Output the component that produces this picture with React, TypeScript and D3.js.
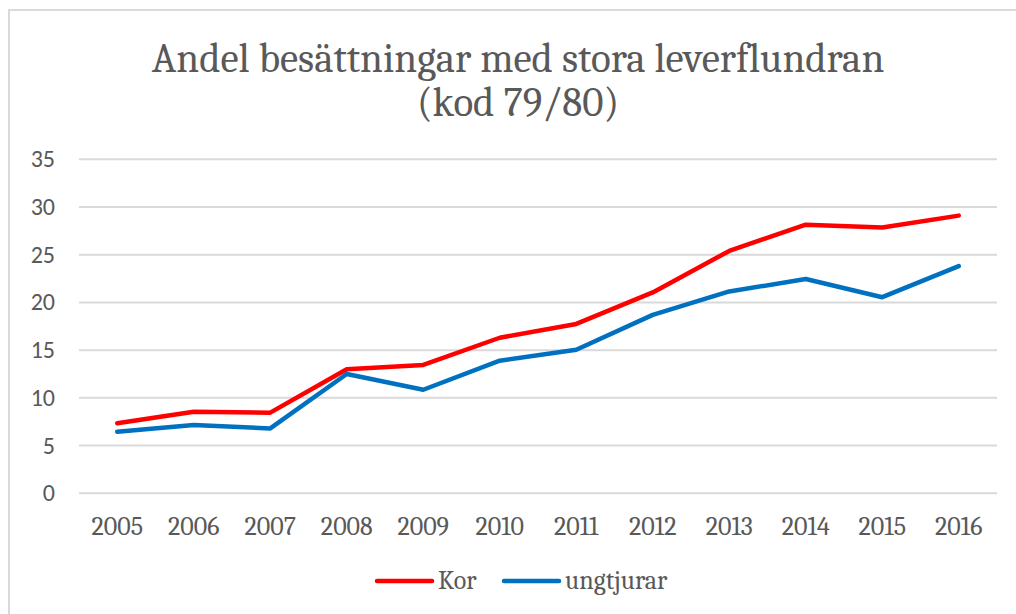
import * as React from 'react';
import * as d3 from 'd3';

const years = ['2005', '2006', '2007', '2008', '2009', '2010', '2011', '2012', '2013', '2014', '2015', '2016'];
const kor = [7.35, 8.55, 8.45, 13.0, 13.45, 16.3, 17.75, 21.05, 25.4, 28.15, 27.85, 29.1];
const ungtjurar = [6.45, 7.15, 6.8, 12.5, 10.85, 13.9, 15.05, 18.7, 21.15, 22.45, 20.55, 23.8];
const yTicks = [0, 5, 10, 15, 20, 25, 30, 35];
const seriesNames = ['Kor', 'ungtjurar'];
const seriesColors = ['#ff0000', '#0070c0'];

const W = 1016;
const H = 614;
const left = 79, right = 997, top = 159.3, bottom = 493.3;

const textColor = '#595959';
const serif = 'Cambria, "Liberation Serif", "DejaVu Serif", serif';
const sans = 'Calibri, "Open Sans", "Liberation Sans", sans-serif';

export default function App() {
  const x = d3.scaleBand<string>().domain(years).range([left, right]);
  const y = d3.scaleLinear().domain([0, 35]).range([bottom, top]);
  const line = d3.line<number>()
    .x((_, i) => x(years[i])! + x.bandwidth() / 2)
    .y(d => y(d));

  const series = [kor, ungtjurar];

  return (
    <svg width={W} height={H} style={{ position: 'absolute', left: 0, top: 0, background: '#fff' }}>
      <rect x={9} y={10} width={W + 10} height={H + 10} fill="#fff" stroke="#d9d9d9" strokeWidth={2} />

      <text x={518} y={72} textAnchor="middle" fontFamily={serif} fontSize={41} fill={textColor}>
        Andel besättningar med stora leverflundran
      </text>
      <text x={518} y={116} textAnchor="middle" fontFamily={serif} fontSize={41} fill={textColor}>
        (kod 79/80)
      </text>

      {yTicks.map(t => (
        <g key={t}>
          <line x1={left} x2={right} y1={y(t)} y2={y(t)} stroke="#d9d9d9" strokeWidth={2} />
          <text x={55} y={y(t) + 8} textAnchor="end" fontFamily={sans} fontSize={24} fill={textColor}>{t}</text>
        </g>
      ))}

      {years.map(yr => (
        <text key={yr} x={x(yr)! + x.bandwidth() / 2} y={535} textAnchor="middle"
          fontFamily={serif} fontSize={26} fill={textColor}>{yr}</text>
      ))}

      {series.map((s, i) => (
        <path key={i} d={line(s)!} fill="none" stroke={seriesColors[i]} strokeWidth={4.5}
          strokeLinejoin="round" strokeLinecap="round" />
      ))}

      {seriesNames.map((n, i) => {
        const lx = [377, 504][i];
        return (
          <g key={n}>
            <line x1={lx} x2={lx + 55} y1={581} y2={581} stroke={seriesColors[i]} strokeWidth={4.5} strokeLinecap="round" />
            <text x={lx + 61} y={589} fontFamily={serif} fontSize={26} fill={textColor}>{n}</text>
          </g>
        );
      })}
    </svg>
  );
}
